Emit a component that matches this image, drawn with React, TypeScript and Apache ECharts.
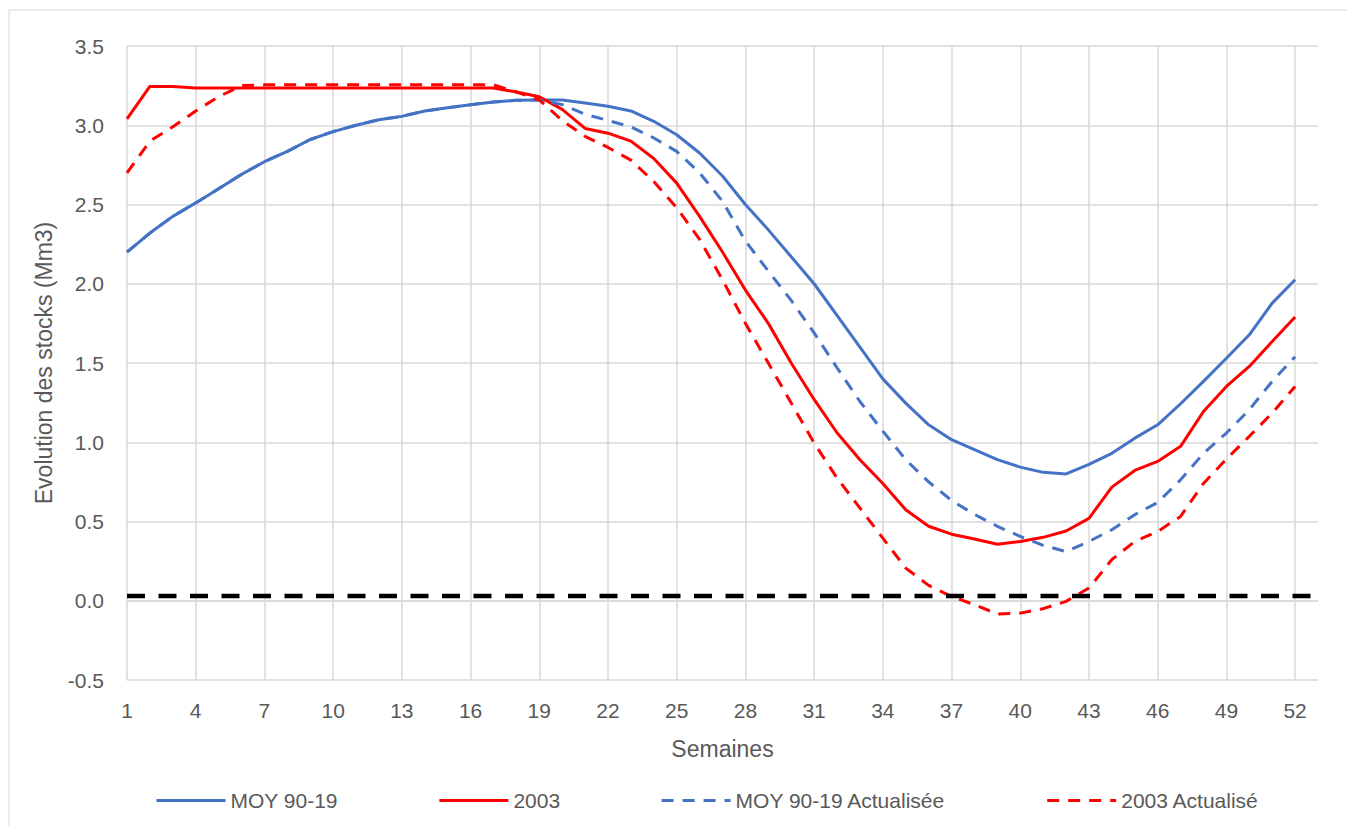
import React, { useEffect, useRef } from "react";
import * as echarts from "echarts";

const weeks: string[] = Array.from({ length: 53 }, (_, i) => String(i + 1));

const moy: number[] = [
  2.20, 2.32, 2.425, 2.51, 2.60, 2.69, 2.77, 2.835, 2.91, 2.96,
  3.00, 3.035, 3.056, 3.09, 3.11, 3.13, 3.146, 3.157, 3.16, 3.16,
  3.14, 3.12, 3.09, 3.025, 2.94, 2.825, 2.68, 2.50, 2.34, 2.17,
  2.00, 1.80, 1.60, 1.40, 1.247, 1.11, 1.016, 0.953, 0.89, 0.843,
  0.81, 0.80, 0.86, 0.93, 1.026, 1.11, 1.243, 1.384, 1.53, 1.678,
  1.878, 2.025,
];

const y2003: number[] = [
  3.04, 3.245, 3.245, 3.235, 3.235, 3.235, 3.235, 3.235, 3.235, 3.235,
  3.235, 3.235, 3.235, 3.235, 3.235, 3.235, 3.235, 3.21, 3.18, 3.10,
  2.98, 2.95, 2.90, 2.79, 2.635, 2.425, 2.20, 1.96, 1.75, 1.50,
  1.27, 1.06, 0.89, 0.74, 0.574, 0.47, 0.42, 0.39, 0.357, 0.374,
  0.40, 0.44, 0.52, 0.717, 0.822, 0.879, 0.974, 1.194, 1.352, 1.478,
  1.636, 1.79,
];

const moyAct: number[] = [
  2.20, 2.32, 2.425, 2.51, 2.60, 2.69, 2.77, 2.835, 2.91, 2.96,
  3.00, 3.035, 3.056, 3.09, 3.11, 3.13, 3.146, 3.157, 3.16, 3.13,
  3.07, 3.03, 2.99, 2.92, 2.835, 2.70, 2.52, 2.27, 2.08, 1.895,
  1.69, 1.47, 1.257, 1.07, 0.89, 0.75, 0.633, 0.545, 0.47, 0.406,
  0.35, 0.31, 0.374, 0.448, 0.543, 0.62, 0.763, 0.93, 1.058, 1.205,
  1.384, 1.54,
];

const y2003Act: number[] = [
  2.70, 2.90, 2.99, 3.09, 3.18, 3.25, 3.255, 3.255, 3.255, 3.255,
  3.255, 3.255, 3.255, 3.255, 3.255, 3.255, 3.255, 3.21, 3.16, 3.03,
  2.93, 2.86, 2.78, 2.645, 2.48, 2.28, 2.025, 1.75, 1.50, 1.247,
  0.995, 0.774, 0.585, 0.395, 0.206, 0.097, 0.027, -0.025, -0.084, -0.078,
  -0.05, -0.004, 0.08, 0.26, 0.374, 0.437, 0.532, 0.74, 0.894, 1.037,
  1.184, 1.352,
];

const threshold: number[] = Array.from({ length: 53 }, () => 0.03);

const seriesNames = ["MOY 90-19", "2003", "MOY 90-19 Actualisée", "2003 Actualisé"];

const FONT = "'Liberation Sans', Arial, sans-serif";
const TXT = "#595959";
const BLUE = "#4472C4";
const RED = "#FF0000";

export default function App() {
  const ref = useRef<HTMLDivElement>(null);
  useEffect(() => {
    document.body.style.margin = "0";
    if (!ref.current) return;
    const chart = echarts.init(ref.current, undefined, { renderer: "svg" });
    const mk = (name: string, data: number[], color: string, dashed: boolean) => ({
      name,
      type: "line",
      data,
      symbol: "none",
      showSymbol: false,
      smooth: false,
      lineStyle: { color, width: 3, type: dashed ? [12, 9] : "solid", cap: "butt" },
      itemStyle: { color },
    });
    chart.setOption({
      animation: false,
      textStyle: { fontFamily: FONT },
      graphic: [
        {
          type: "rect",
          shape: { x: 9, y: 10, width: 1345, height: 830 },
          style: { fill: "none", stroke: "#d9d9d9", lineWidth: 1 },
          silent: true,
        },
      ],
      grid: { left: 127, right: 29, top: 46, bottom: 147, containLabel: false },
      legend: {
        data: seriesNames,
        left: 150,
        top: 785,
        itemWidth: 69,
        itemHeight: 14,
        itemGap: 100,
        itemStyle: { opacity: 0 },
        lineStyle: { width: 3 },
        textStyle: { color: TXT, fontSize: 21, fontFamily: FONT },
      },
      xAxis: {
        type: "category",
        data: weeks,
        boundaryGap: false,
        name: "Semaines",
        nameLocation: "middle",
        nameGap: 57,
        nameTextStyle: { color: TXT, fontSize: 23, fontFamily: FONT },
        axisLine: { show: true, lineStyle: { color: "#d9d9d9", width: 1.5 } },
        axisTick: { show: false },
        axisLabel: {
          interval: (i: number) => i % 3 === 0,
          color: TXT,
          fontSize: 21,
          fontFamily: FONT,
          margin: 20,
        },
        splitLine: {
          show: true,
          interval: (i: number) => i % 3 === 0,
          lineStyle: { color: "#d9d9d9", width: 1.5 },
        },
      },
      yAxis: {
        type: "value",
        min: -0.5,
        max: 3.5,
        interval: 0.5,
        name: "Evolution des stocks (Mm3)",
        nameLocation: "middle",
        nameGap: 72,
        nameTextStyle: { color: TXT, fontSize: 23, fontFamily: FONT },
        axisLine: { show: false },
        axisTick: { show: false },
        axisLabel: {
          color: TXT,
          fontSize: 21,
          fontFamily: FONT,
          margin: 23,
          formatter: (v: number) => v.toFixed(1),
        },
        splitLine: { show: true, lineStyle: { color: "#d9d9d9", width: 1.5 } },
      },
      series: [
        mk(seriesNames[0], moy, BLUE, false),
        mk(seriesNames[1], y2003, RED, false),
        mk(seriesNames[2], moyAct, BLUE, true),
        mk(seriesNames[3], y2003Act, RED, true),
        {
          name: "Seuil",
          type: "line",
          data: threshold,
          symbol: "none",
          showSymbol: false,
          lineStyle: { color: "#000000", width: 4.5, type: [18, 13.5], cap: "butt" },
          itemStyle: { color: "#000000" },
        },
      ],
    });
    return () => chart.dispose();
  }, []);
  return <div ref={ref} style={{ width: 1347, height: 827 }} />;
}
